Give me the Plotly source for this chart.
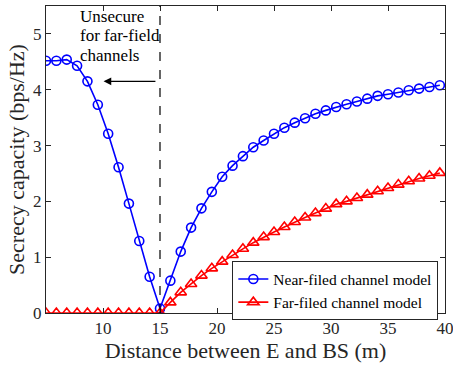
import numpy as np
import plotly.graph_objects as go

n_pts = 39
distance = [5 + k * 10 / 11 for k in range(n_pts)]

near_field = [4.52, 4.52, 4.54, 4.43, 4.15, 3.73, 3.21, 2.61, 1.96, 1.29, 0.65, 0.08,
              0.58, 1.10, 1.53, 1.875, 2.17, 2.44, 2.64, 2.81, 2.97, 3.09, 3.21, 3.32,
              3.41, 3.49, 3.57, 3.63, 3.69, 3.74, 3.79, 3.84, 3.89, 3.92, 3.95, 3.99,
              4.02, 4.05, 4.08]
far_field = [0.0] * 12 + [0.19, 0.37, 0.52, 0.67, 0.80, 0.92, 1.04, 1.15, 1.26, 1.36,
                          1.45, 1.54, 1.63, 1.71, 1.79, 1.87, 1.95, 2.00, 2.06, 2.12,
                          2.18, 2.24, 2.30, 2.36, 2.41, 2.46, 2.51]

x_ticks = [10, 15, 20, 25, 30, 35, 40]
y_ticks = [0, 1, 2, 3, 4, 5]

note_lines = ["Unsecure", "for far-field", "channels"]
note_y = [5.32, 4.97, 4.61]

FONT = "Liberation Serif"
AX = "#262626"

fig = go.Figure()
fig.add_trace(go.Scatter(
    x=distance, y=near_field, mode="lines+markers", name="Near-filed channel model",
    line=dict(color="#0000FF", width=1.6),
    marker=dict(symbol="circle-open", size=9, color="#0000FF", line=dict(width=1.6)),
))
fig.add_trace(go.Scatter(
    x=distance, y=far_field, mode="lines+markers", name="Far-filed channel model",
    line=dict(color="#FF0000", width=1.6),
    marker=dict(symbol="triangle-up-open", size=10, color="#FF0000", line=dict(width=1.6)),
))

fig.add_shape(type="line", x0=15, x1=15, y0=0, y1=5.5, xref="x", yref="y",
              line=dict(color="black", width=1.2, dash="dash"))

for txt, yy in zip(note_lines, note_y):
    fig.add_annotation(x=7.83, y=yy, xref="x", yref="y", xanchor="left", yanchor="middle",
                       align="left", showarrow=False, text=txt,
                       font=dict(family=FONT, size=17, color="black"))
fig.add_annotation(x=10.05, y=4.15, ax=14.73, ay=4.15, xref="x", yref="y",
                   axref="x", ayref="y", showarrow=True, arrowhead=2, arrowsize=1.4,
                   arrowwidth=1.1, arrowcolor="black", text="")

axis_common = dict(showline=True, linecolor=AX, linewidth=1, mirror="ticks",
                   ticks="inside", ticklen=5, tickcolor=AX, showgrid=False,
                   zeroline=False, ticklabeloverflow="allow",
                   tickfont=dict(family=FONT, size=17, color=AX))

fig.update_xaxes(range=[5, 40], tickvals=x_ticks,
                 title=dict(text="Distance between E and BS (m)",
                            font=dict(family=FONT, size=22, color=AX), standoff=4),
                 **axis_common)
fig.update_yaxes(range=[0, 5.5], tickvals=y_ticks,
                 title=dict(text="Secrecy capacity (bps/Hz)",
                            font=dict(family=FONT, size=22, color=AX), standoff=2),
                 **axis_common)

fig.update_layout(
    width=453, height=369,
    margin=dict(l=46, r=8, t=6, b=56, autoexpand=False),
    plot_bgcolor="white", paper_bgcolor="white",
    font=dict(family=FONT),
    showlegend=True,
    legend=dict(x=0.467, y=0.168, xanchor="left", yanchor="top",
                bgcolor="white", bordercolor=AX, borderwidth=1,
                font=dict(family=FONT, size=15.5, color="black"),
                itemwidth=30, tracegroupgap=0),
)

fig.write_html("out.html")
